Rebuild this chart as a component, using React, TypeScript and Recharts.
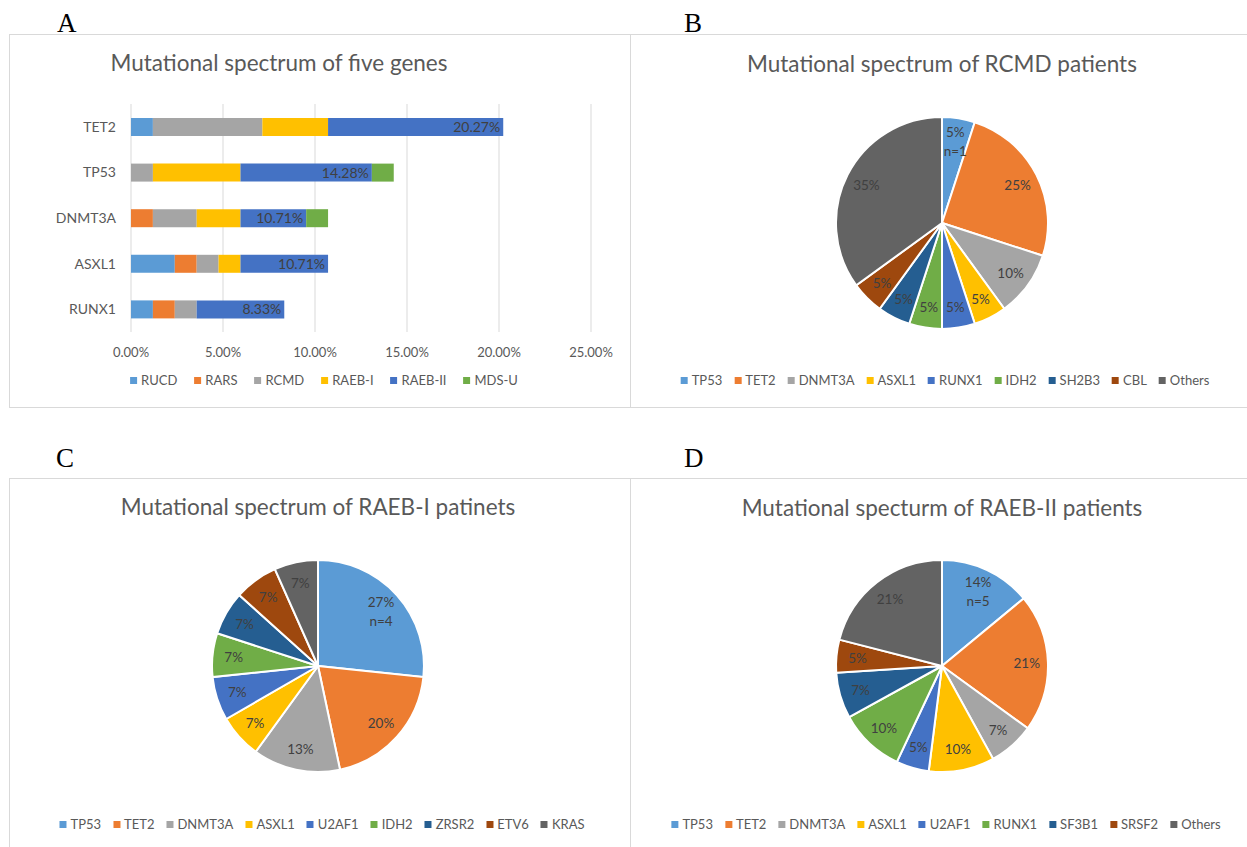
import React from 'react'
import { BarChart, Bar, XAxis, YAxis, CartesianGrid, LabelList, PieChart, Pie, Cell } from 'recharts'

// Panel A: share of all patients (%) per gene, split by MDS subtype
const genes = ['TET2', 'TP53', 'DNMT3A', 'ASXL1', 'RUNX1']
const subtypes = ['RUCD', 'RARS', 'RCMD', 'RAEB-I', 'RAEB-II', 'MDS-U']
const rucd = [1.19, 0, 0, 2.38, 1.19]
const rars = [0, 0, 1.19, 1.19, 1.19]
const rcmd = [5.95, 1.19, 2.38, 1.19, 1.19]
const raeb1 = [3.57, 4.76, 2.38, 1.19, 0]
const raeb2 = [9.52, 7.14, 3.57, 4.76, 4.76]
const mdsu = [0, 1.19, 1.19, 0, 0]
const totalLabels = ['20.27%', '14.28%', '10.71%', '10.71%', '8.33%']
const xTicks = [0, 5, 10, 15, 20, 25]

// Panel B: RCMD patients
const rcmdGenes = ['TP53', 'TET2', 'DNMT3A', 'ASXL1', 'RUNX1', 'IDH2', 'SH2B3', 'CBL', 'Others']
const rcmdValues = [5, 25, 10, 5, 5, 5, 5, 5, 35]

// Panel C: RAEB-I patients (counts)
const raeb1Genes = ['TP53', 'TET2', 'DNMT3A', 'ASXL1', 'U2AF1', 'IDH2', 'ZRSR2', 'ETV6', 'KRAS']
const raeb1Values = [4, 3, 2, 1, 1, 1, 1, 1, 1]

// Panel D: RAEB-II patients
const raeb2Genes = ['TP53', 'TET2', 'DNMT3A', 'ASXL1', 'U2AF1', 'RUNX1', 'SF3B1', 'SRSF2', 'Others']
const raeb2Values = [14, 21, 7, 10, 5, 10, 7, 5, 21]

const barColors = ['#5B9BD5', '#ED7D31', '#A5A5A5', '#FFC000', '#4472C4', '#70AD47']
const pieColors = ['#5B9BD5', '#ED7D31', '#A5A5A5', '#FFC000', '#4472C4', '#70AD47', '#255E91', '#9E480E', '#636363']

const FONT = 'Lato, "Open Sans", sans-serif'
const TEXT = '#595959'
const RADIAN = Math.PI / 180

const seriesValues = [rucd, rars, rcmd, raeb1, raeb2, mdsu]
const barData = genes.map((gene, i) => {
  const row: Record<string, string | number> = { gene, total: totalLabels[i] }
  subtypes.forEach((s, j) => {
    row[s] = seriesValues[j][i]
  })
  return row
})

function Frame({ left, top, width, height }: { left: number; top: number; width: number; height: number }) {
  return (
    <div
      style={{
        position: 'absolute', left, top, width, height,
        border: '1px solid #d9d9d9', boxSizing: 'border-box',
      }}
    />
  )
}

function Letter({ text, left, top }: { text: string; left: number; top: number }) {
  return (
    <div style={{ position: 'absolute', left, top, fontFamily: '"Liberation Serif", serif', fontSize: 27, lineHeight: 1, color: '#000' }}>
      {text}
    </div>
  )
}

function Title({ text, cx, cy }: { text: string; cx: number; cy: number }) {
  return (
    <div
      style={{
        position: 'absolute', left: cx, top: cy, transform: 'translate(-50%, -50%)',
        fontFamily: FONT, fontSize: 22.5, color: TEXT, whiteSpace: 'nowrap', lineHeight: 1.2,
      }}
    >
      {text}
    </div>
  )
}

function Legend({ names, colors, cx, cy, gap = 12 }: { names: string[]; colors: string[]; cx: number; cy: number; gap?: number }) {
  return (
    <div
      style={{
        position: 'absolute', left: cx, top: cy, transform: 'translate(-50%, -50%)',
        display: 'flex', gap, whiteSpace: 'nowrap',
        fontFamily: FONT, fontSize: 13, color: TEXT,
      }}
    >
      {names.map((n, i) => (
        <span key={n} style={{ display: 'flex', alignItems: 'center', gap: 4 }}>
          <span style={{ width: 7, height: 7, background: colors[i], display: 'inline-block' }} />
          {n}
        </span>
      ))}
    </div>
  )
}

function pieLabel(note: string) {
  return (props: any) => {
    const { cx, cy, midAngle, outerRadius, percent, index } = props
    const r = outerRadius * 0.8
    const x = cx + r * Math.cos(-midAngle * RADIAN)
    const y = cy + r * Math.sin(-midAngle * RADIAN)
    const txt = `${Math.round(percent * 100)}%`
    if (index === 0) {
      return (
        <text x={x} y={y} fill="#404040" fontSize={13.5} fontFamily={FONT} textAnchor="middle">
          <tspan x={x} dy={-2}>{txt}</tspan>
          <tspan x={x} dy={19}>{note}</tspan>
        </text>
      )
    }
    return (
      <text x={x} y={y} fill="#404040" fontSize={13.5} fontFamily={FONT} textAnchor="middle" dominantBaseline="central">
        {txt}
      </text>
    )
  }
}

function PiePanel({ names, values, note, left, top }: { names: string[]; values: number[]; note: string; left: number; top: number }) {
  const data = names.map((name, i) => ({ name, value: values[i] }))
  return (
    <div style={{ position: 'absolute', left, top, width: 617, height: 410 }}>
      <PieChart width={617} height={410} margin={{ top: 0, right: 0, bottom: 0, left: 0 }}>
        <Pie
          data={data}
          dataKey="value"
          cx={312}
          cy={223}
          outerRadius={106}
          startAngle={90}
          endAngle={-270}
          stroke="#ffffff"
          strokeWidth={2}
          labelLine={false}
          label={pieLabel(note)}
          isAnimationActive={false}
        >
          {data.map((d, i) => (
            <Cell key={d.name} fill={pieColors[i]} />
          ))}
        </Pie>
      </PieChart>
    </div>
  )
}

export default function App() {
  return (
    <div style={{ position: 'absolute', left: 0, top: 0, width: 1247, height: 847, background: '#fff', overflow: 'hidden' }}>
      <Frame left={9} top={34} width={622} height={374} />
      <Frame left={630} top={34} width={630} height={374} />
      <Frame left={9} top={478} width={622} height={380} />
      <Frame left={630} top={478} width={630} height={380} />

      <Letter text="A" left={57} top={10} />
      <Letter text="B" left={684} top={10} />
      <Letter text="C" left={56} top={445} />
      <Letter text="D" left={684} top={445} />

      <Title text="Mutational spectrum of five genes" cx={279} cy={62} />
      <Title text="Mutational spectrum of RCMD patients" cx={942} cy={63} />
      <Title text="Mutational spectrum of RAEB-I patinets" cx={318} cy={506} />
      <Title text="Mutational specturm of RAEB-II patients" cx={942} cy={507} />

      <div style={{ position: 'absolute', left: 0, top: 0, width: 630, height: 410 }}>
        <BarChart
          width={630}
          height={410}
          data={barData}
          layout="vertical"
          margin={{ top: 104, right: 39, bottom: 48, left: 0 }}
          barSize={18}
        >
          <CartesianGrid horizontal={false} stroke="#d9d9d9" />
          <XAxis
            type="number"
            domain={[0, 25]}
            ticks={xTicks}
            tickFormatter={(v: number) => `${v.toFixed(2)}%`}
            axisLine={false}
            tickLine={false}
            tickMargin={10}
            tick={{ fill: TEXT, fontSize: 13, fontFamily: FONT }}
          />
          <YAxis
            type="category"
            dataKey="gene"
            width={131}
            axisLine={false}
            tickLine={false}
            tickMargin={9}
            tick={{ fill: TEXT, fontSize: 14, fontFamily: FONT }}
          />
          {subtypes.map((s, j) => (
            <Bar key={s} dataKey={s} stackId="a" fill={barColors[j]} isAnimationActive={false}>
              {s === 'RAEB-II' && (
                <LabelList dataKey="total" position="insideRight" offset={3} fill="#404040" fontSize={14} fontFamily={FONT} />
              )}
            </Bar>
          ))}
        </BarChart>
      </div>
      <Legend names={subtypes} colors={barColors} cx={324} cy={380} gap={17} />

      <PiePanel names={rcmdGenes} values={rcmdValues} note="n=1" left={630} top={0} />
      <Legend names={rcmdGenes} colors={pieColors} cx={945} cy={380} />

      <PiePanel names={raeb1Genes} values={raeb1Values} note="n=4" left={6} top={443} />
      <Legend names={raeb1Genes} colors={pieColors} cx={322} cy={824} />

      <PiePanel names={raeb2Genes} values={raeb2Values} note="n=5" left={630} top={443} />
      <Legend names={raeb2Genes} colors={pieColors} cx={946} cy={824} />
    </div>
  )
}
